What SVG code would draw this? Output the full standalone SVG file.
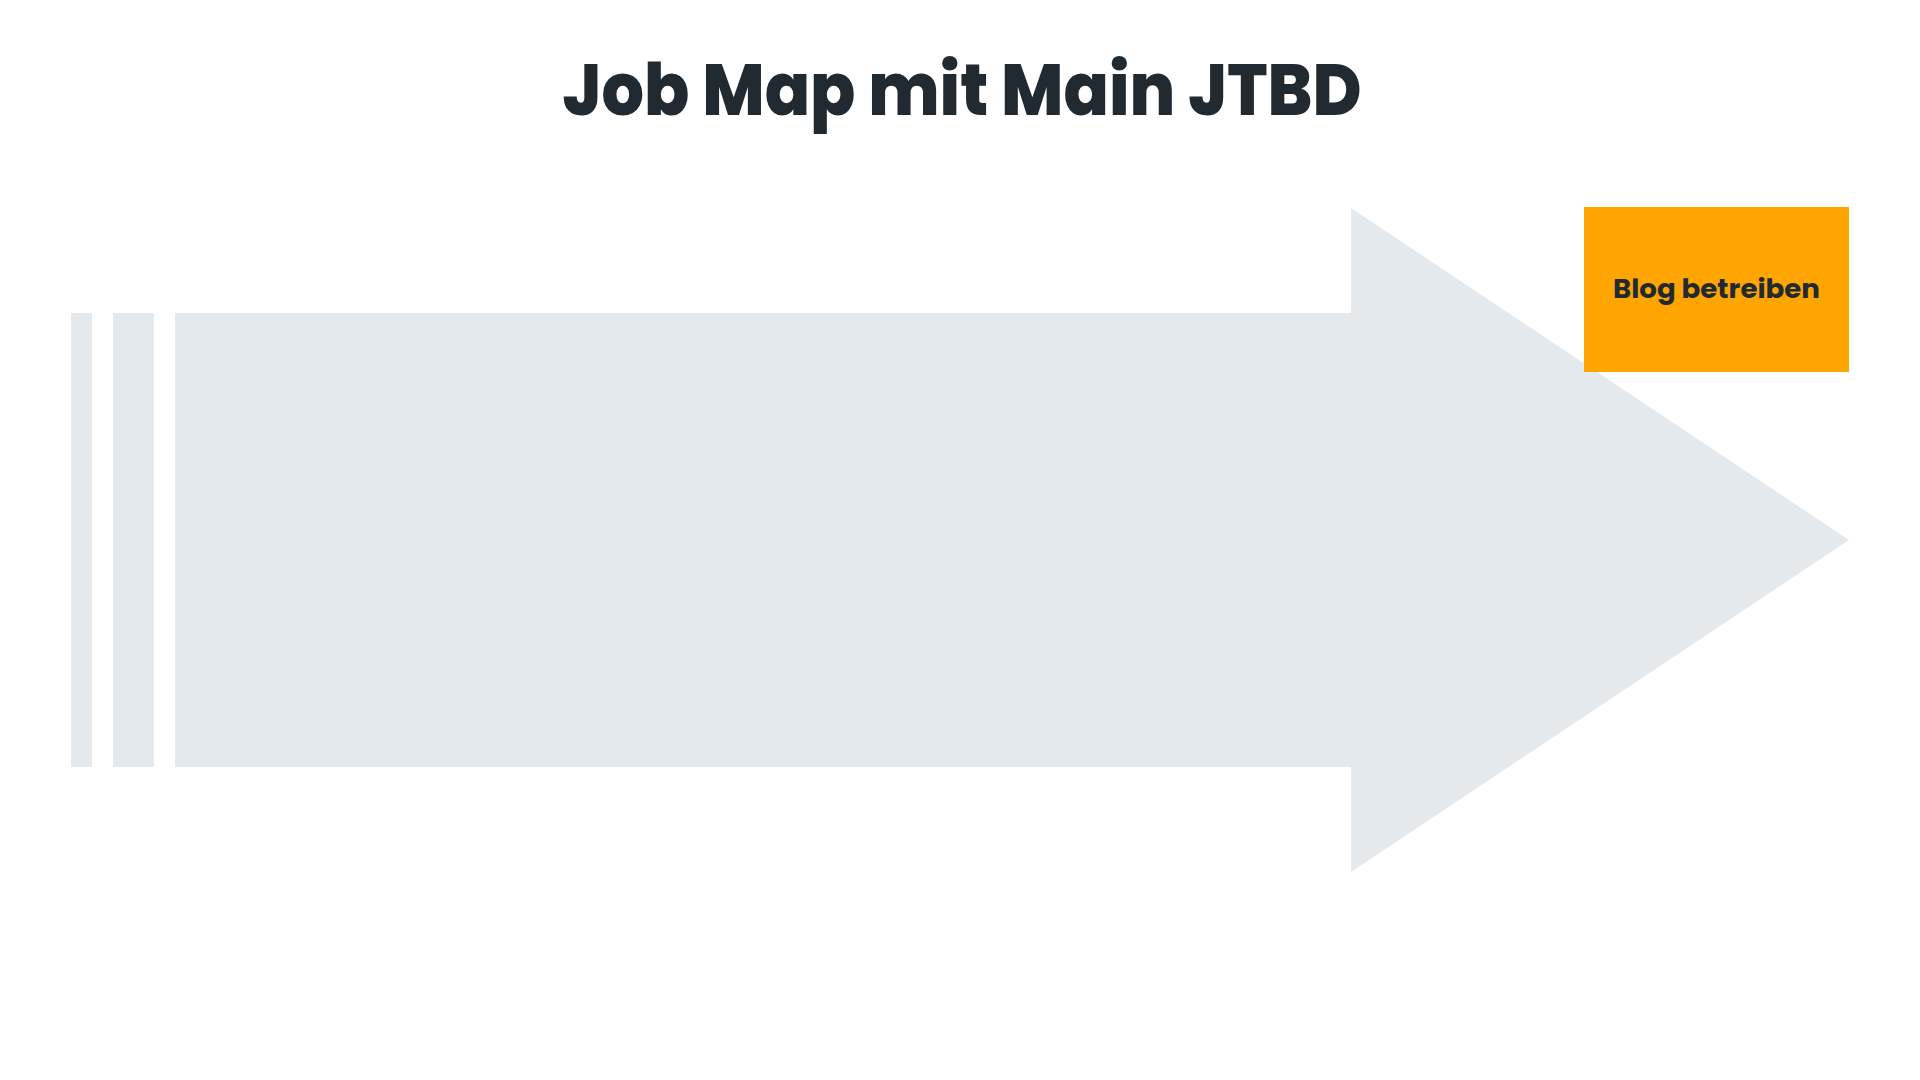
<svg xmlns="http://www.w3.org/2000/svg" width="1920" height="1080" viewBox="0 0 1920 1080">
  <style>
    .bg { fill: #ffffff; }
    .band { fill: #e4e9ed; }
    .title { font-family: Poppins, Inter, "Liberation Sans", sans-serif; font-weight: 800; font-size: 72px; fill: #222a31; }
    .node-box { fill: #ffa500; }
    .node-label { font-family: Poppins, Inter, "Liberation Sans", sans-serif; font-weight: 700; font-size: 26px; fill: #222a31; }
  </style>
  <rect class="bg" x="0" y="0" width="1920" height="1080"/>
  <g id="title">
    <text class="title" x="962" y="115" text-anchor="middle" textLength="799" lengthAdjust="spacingAndGlyphs">Job Map mit Main JTBD</text>
  </g>
  <g id="arrow">
    <rect class="band" x="71" y="313" width="21" height="454"/>
    <rect class="band" x="113" y="313" width="41" height="454"/>
    <polygon class="band" points="175,313 1351,313 1351,208 1849,540 1351,872 1351,767 175,767"/>
  </g>
  <g id="connectors"></g>
  <g id="node-blog-betreiben">
    <rect class="node-box" x="1584" y="207" width="265" height="165"/>
    <text class="node-label" x="1716.5" y="298" text-anchor="middle" textLength="207" lengthAdjust="spacingAndGlyphs">Blog betreiben</text>
  </g>
</svg>
